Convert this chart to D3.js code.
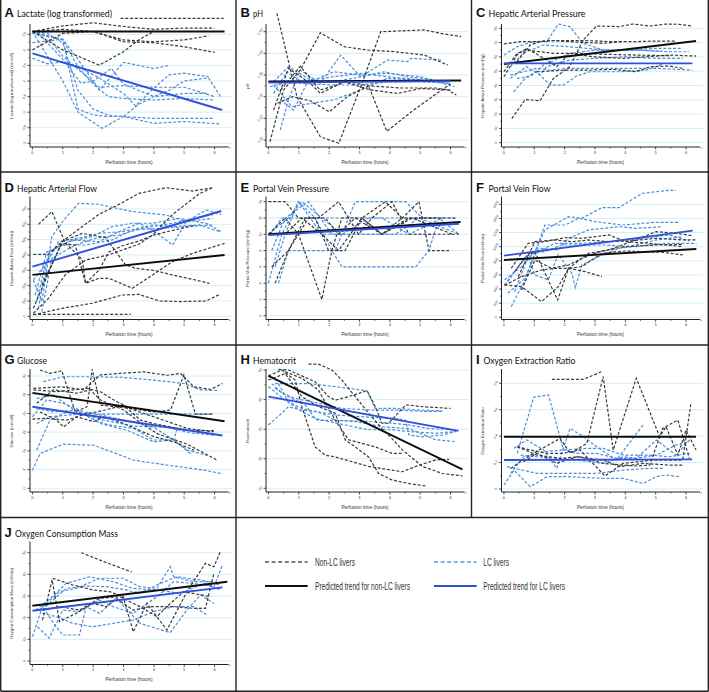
<!DOCTYPE html>
<html><head><meta charset="utf-8">
<script src="https://cdn.jsdelivr.net/npm/d3@7"></script>
<style>body{margin:0;background:#fff}svg{display:block}</style>
</head><body><svg id="c" width="709" height="692"></svg>
<script>
// ---------- DATA (hours, value) ----------
const lactateTicks=[2.5,2,1.5,1,0.5,0,-0.5,-1];
const lactateNonLC=[
 [[2.9,3.01],[6.3,3.01]],
 [[0,2.59],[1,2.77],[2,2.87],[3,2.75],[4,2.66],[5,2.7],[6,2.7]],
 [[0,2.59],[1,2.66],[2,2.59],[3,2.32],[4,2.26],[5,2.32],[5.8,2.45]],
 [[0,2.0],[1,2.53],[2,2.59],[3,2.26],[4,2.23],[5,2.1],[6,1.92]],
 [[0,2.59],[1,2.0],[2.2,1.51],[3,1.94],[3.5,2.32],[4,2.59],[5,2.59],[6.3,2.59]]];
const lactateLC=[
 [[0,2.59],[0.5,2.53],[1,2.23],[1.5,0.7],[2,0.1],[2.5,-0.1],[3,-0.14],[3.5,0.25],[4,0.5],[5,0.6],[5.8,0.6]],
 [[0,2.53],[1,2.34],[1.5,0.1],[2,-0.09],[2.5,-0.14],[3,-0.14],[4,-0.2],[5,-0.2],[6,-0.2]],
 [[0,2.59],[1,1.0],[1.5,0.0],[2.3,-0.52],[3,-0.14],[4,-0.36],[5,-0.3],[6.2,-0.38]],
 [[0,2.23],[1,2.34],[1.5,1.7],[2.2,0.7],[3,1.6],[4,1.4],[4.5,1.5]],
 [[0,1.73],[0.5,1.55],[1,1.62],[1.5,1.45],[2,0.9],[2.5,0.5],[3,0.44],[4,0.39],[5,0.44],[6,0.39]],
 [[0,2.59],[1,2.32],[1.5,1.46],[2.2,1.1],[3,0.6],[3.4,0.2],[4,0.77],[4.5,1.2],[5,1.25],[5.8,1.14]],
 [[0.2,2.53],[1,1.7],[1.6,0.93],[2,1.0],[2.6,1.4],[3,0.9],[4,0.5],[4.5,0.7],[5,1.0],[5.8,1.1],[6.2,0.5]],
 [[0,2.59],[0.5,2.43],[1,1.8],[1.6,1.3],[2.2,0.8],[3,0.85],[4,0.8],[5,0.8],[6,0.5]]];
const lactateTrendNonLC=[[0,2.59],[6.33,2.59]];
const lactateTrendLC=[[0,1.89],[6.25,0.07]];

const phTicks=[7.5,7.4,7.3,7.2,7.1,7.0];
const phNonLC=[
 [[0.28,7.585],[0.94,7.2],[1.71,7.015],[2.32,6.985],[3.04,7.246],[3.7,7.5],[5.14,7.508],[5.69,7.492],[6.35,7.477]],
 [[0.05,6.992],[0.5,7.231],[1.05,7.323],[1.71,7.495],[2.49,7.431],[3.26,7.415],[4.14,7.408],[5.14,7.392],[5.91,7.346]],
 [[0.17,7.138],[0.66,7.331],[1.38,7.262],[1.71,7.215],[2.49,7.269],[3.37,7.231],[4.25,7.215],[5.03,7.238],[5.91,7.231],[6.19,7.208]],
 [[0.3,7.17],[0.8,7.2],[1.4,7.18],[2.0,7.13],[2.6,7.2],[3.3,7.25],[3.9,7.04],[4.8,7.14],[5.7,7.23],[6.0,7.26]],
 [[0.4,7.23],[1.05,7.34],[1.7,7.23],[2.6,7.27],[3.3,7.25],[4.4,7.24],[5.5,7.24],[6.0,7.23]]];
const phLC=[
 [[0.17,7.269],[0.66,7.338],[1.38,7.277],[2.15,7.292],[3.04,7.308],[3.92,7.292],[5.03,7.277],[5.91,7.262]],
 [[0.39,7.046],[0.66,7.185],[1.05,7.323],[1.71,7.262],[2.38,7.392],[3.04,7.292],[3.92,7.369],[4.59,7.362],[4.7,7.377],[5.69,7.369]],
 [[0.17,7.254],[0.77,7.154],[1.38,7.169],[2.15,7.185],[3.04,7.231],[3.92,7.285],[5.03,7.277]],
 [[0.39,7.185],[0.83,7.138],[1.27,7.262],[2.15,7.315],[3.04,7.3],[3.92,7.308],[5.03,7.292],[6.13,7.246]],
 [[0.05,7.246],[0.5,7.262],[1.05,7.262],[2.04,7.254],[3.04,7.254],[3.92,7.269],[5.03,7.269],[6.02,7.262]],
 [[0.17,7.215],[0.61,7.315],[1.16,7.262],[2.15,7.269],[2.82,7.285],[3.81,7.315],[4.59,7.292],[5.47,7.277]]];
const phTrendNonLC=[[0,7.27],[6.35,7.275]];
const phTrendLC=[[0,7.265],[6.0,7.272]];

const hapTicks=[80,70,60,50,40,30,20,10,0];
const hapNonLC=[
 [[0,69],[0.54,70.7],[1.08,70.7],[1.52,71.4],[1.96,71.4],[2.72,71.4],[3.49,70.7],[4.36,70.7],[5.02,71.1],[5.67,71.1]],
 [[0.26,16.9],[0.7,30.2],[1.19,29.3],[1.63,45],[2.17,53.1],[2.61,71.8],[3.05,81.6],[3.81,81.2],[4.25,83],[4.8,81.6],[5.34,83],[5.78,82.8],[6.21,81.6]],
 [[0,46.1],[0.43,61.3],[0.75,66],[1.41,57.8],[1.74,53.1],[2.17,62.5],[2.94,60.1],[3.92,59],[4.69,60.1],[5.45,61.3],[6.33,60.6]],
 [[0,49.6],[0.43,62.5],[0.75,64.8],[1.19,63.6],[1.63,62.5],[2.39,62.5],[3.38,61.8],[4.36,61.3],[5.45,60.8]],
 [[0.43,56.6],[0.86,68.3],[1.19,70.7],[1.63,71.4],[2.5,70.2],[3.27,69.5],[3.92,70.7]],
 [[1.08,49.6],[2.07,50.8],[2.83,50.8],[3.6,51.3],[4.36,49.6],[4.8,53.1],[5.45,53.6],[5.89,52]]];
const hapLC=[
 [[0,61.3],[0.43,67.1],[0.97,70.7],[1.41,70.7],[1.79,83],[2.17,81.2],[2.61,69.5],[3.27,64.8],[4.36,64.8],[5.45,63.6],[6.1,63.6]],
 [[0.21,47.3],[0.64,49.6],[1.08,52],[1.52,50.8],[2.07,52],[3.05,52],[4.14,52],[5.02,52],[6.21,50.8]],
 [[0.32,35.6],[0.75,46.1],[1.08,49.6],[1.52,40.3],[1.96,40.3],[2.39,46.6],[2.83,49.6],[3.81,49.6],[4.69,50.8],[5.23,55]],
 [[0.21,45],[0.75,53.1],[1.19,47.3],[1.41,53.1],[2.17,57.8],[3.05,59],[3.92,60.1],[5.02,59],[5.89,59]],
 [[0.43,45],[0.86,46.1],[1.3,54.3],[2.17,62.5],[3.05,64.8],[4.14,64.8],[5.02,66],[5.89,66]],
 [[0.21,53.1],[0.64,62.5],[1.3,68.3],[2.17,67.1],[3.27,64.8],[4.25,64.8],[5.2,64]]];
const hapTrendNonLC=[[0,55],[6.33,71.1]];
const hapTrendLC=[[0,55.5],[6.21,55.5]];

const hafTicks=[700,600,500,400,300,200,100,0];
const hafNonLC=[
 [[0.2,600],[0.64,683],[1.08,480],[1.64,370],[1.75,215],[2.19,300],[2.52,420],[2.96,460],[3.5,490],[4.0,530],[4.6,560],[5.3,590]],
 [[0.03,404],[0.53,404],[0.97,487],[1.64,541],[2.41,513],[3.07,335],[3.4,313],[4.0,300],[4.6,270],[5.3,240],[5.83,215]],
 [[0.03,52],[0.97,487],[2.19,665],[2.85,730],[3.51,802],[4.4,839],[5.28,817],[5.94,839]],
 [[0.03,20],[0.53,117],[1.08,270],[1.75,367],[2.5,400],[3.5,470],[3.96,530],[4.62,665],[5.5,800],[5.94,839]],
 [[0.03,9],[0.97,52],[1.97,85],[2.96,139],[3.51,143],[4.18,100],[4.84,96],[5.72,100],[6.17,143]],
 [[0.03,13],[0.64,13],[1.64,13],[3.24,13]],
 [[0.31,204],[0.97,476],[1.41,465],[1.75,215],[2.19,248],[2.52,248],[3.29,183],[3.96,270],[4.62,357],[5.28,411],[6.33,476]]];
const hafLC=[
 [[0.03,237],[0.31,96],[0.64,520],[1.08,639],[1.52,737],[2.19,730],[3.29,683],[4.4,661],[5.06,617],[5.72,693],[6.22,665]],
 [[0.03,237],[0.42,335],[0.86,487],[1.52,509],[2.19,541],[2.96,552],[3.96,596],[4.62,585],[5.5,596],[6.17,552]],
 [[0.14,96],[0.42,335],[0.75,443],[1.3,498],[2.19,487],[2.85,552],[3.51,607],[3.96,563],[4.62,465],[5.06,617],[5.94,639]],
 [[0.2,52],[0.53,422],[1.19,487],[1.97,520],[2.63,585],[3.29,607],[3.96,607],[4.84,639],[5.72,607],[6.22,552]],
 [[0.31,30],[0.64,378],[1.41,465],[2.08,509],[2.85,530],[3.62,574],[4.62,607],[5.28,639],[5.94,661]],
 [[0.09,139],[0.48,422],[1.08,465],[1.75,465],[2.63,498],[3.29,563],[4.18,574],[5.06,585],[5.94,596]]];
const hafTrendNonLC=[[0,270],[6.33,400]];
const hafTrendLC=[[0,324],[6.22,687]];

const pvpTicks=[14,12,10,8,6,4,2,0];
const pvpNonLC=[
 [[0,14],[0.55,14],[0.99,12],[1.54,12],[1.98,8],[2.53,8],[3.08,12],[3.85,14],[4.41,12],[5.51,12],[6.17,12]],
 [[0,10],[0.55,12],[0.99,10],[1.76,2],[2.09,8],[2.42,12],[3.08,12],[3.74,10],[4.41,12],[4.96,14],[5.29,8],[5.95,8]],
 [[0.11,6],[0.66,8],[1.21,12],[1.65,12],[2.31,14],[2.97,10],[3.41,12],[4.07,14],[4.63,10],[5.51,10],[6.28,10]],
 [[0,10],[0.55,10],[1.1,12],[1.76,10],[2.31,8],[3.08,12],[3.74,10],[4.63,12],[5.51,12]],
 [[0.22,4],[0.66,8],[1.32,12],[1.87,12],[2.31,10],[2.86,12],[3.74,10],[4.74,12],[6.06,10]]];
const pvpLC=[
 [[0,4],[0.44,10],[0.99,14],[1.54,12],[2.09,8],[2.42,6],[4.85,6],[5.29,8],[5.62,12],[6.28,10]],
 [[0.33,4],[0.66,8],[2.2,8],[2.86,14],[4.52,14],[5.07,12],[5.84,12]],
 [[0.11,8],[0.55,12],[1.32,14],[2.09,10],[2.64,10],[3.3,10],[4.19,10],[4.96,12],[6.28,10]],
 [[0.06,10],[0.44,12],[1.1,12],[1.76,12],[2.42,10],[3.3,12],[4.41,12],[5.51,12],[6.17,12]],
 [[0.22,6],[0.55,10],[0.99,14],[1.76,10],[2.31,10],[3.3,10],[4.41,10],[5.51,10]],
 [[0,10],[0.66,12],[1.1,14],[1.76,12],[2.42,12],[3.74,12],[4.63,10],[5.73,12]]];
const pvpTrendNonLC=[[0,10],[6.33,11.5]];
const pvpTrendLC=[[0,9.9],[6.28,11.3]];

const pvfTicks=[1600,1400,1200,1000,800,600,400,200,0];
const pvfNonLC=[
 [[0.24,694],[0.8,1048],[1.35,1071],[2.02,1128],[2.57,1119],[3.46,1166],[4.01,1071],[4.78,1048],[5.89,1001]],
 [[0.02,458],[0.58,434],[1.24,222],[1.79,434],[2.13,694],[2.57,717],[3.23,906],[4.01,939],[5.23,920],[5.89,883]],
 [[0.02,453],[0.58,576],[1.24,670],[1.68,694],[2.13,694],[2.68,647],[3.23,576]],
 [[0.35,647],[0.74,859],[1.02,930],[1.77,245],[2.13,694],[2.79,906],[3.46,953],[4.34,1095],[5.01,1213],[5.67,1189],[6.22,1156]],
 [[0.47,576],[1.02,1071],[1.68,1095],[2.24,1071],[2.79,1095],[3.46,1071],[4.12,1081],[5.01,1119],[5.89,1095],[6.34,1095]],
 [[0.58,387],[1.02,812],[1.57,694],[2.13,741],[2.57,835],[3.23,939],[4.01,1001],[5.01,1024],[5.89,1034]]];
const pvfLC=[
 [[0.02,529],[0.58,717],[1.02,930],[1.35,1237],[2.13,1425],[2.57,1402],[3.23,1553],[3.79,1553],[4.56,1756],[5.45,1798],[5.67,1798]],
 [[0.24,151],[0.69,529],[1.02,906],[1.35,1307],[2.02,1307],[2.46,1402],[3.01,1355],[3.9,1307],[5.01,1345],[5.78,1345]],
 [[0.13,340],[0.69,552],[1.13,977],[1.79,953],[2.13,1119],[2.79,1237],[3.79,1284],[4.34,1260],[5.23,1284]],
 [[0.35,363],[0.8,859],[1.02,599],[1.46,529],[1.79,892],[2.24,623],[2.35,420],[2.57,741],[3.23,883],[3.79,977],[4.56,1015],[5.45,1048],[6.34,1048]],
 [[0.02,458],[0.8,906],[1.35,930],[1.9,1024],[2.68,1024],[3.34,1024],[4.12,1001],[5.01,1095],[5.89,1142]],
 [[0.13,505],[0.58,788],[1.02,906],[1.68,1048],[2.57,1048],[3.46,1071],[4.56,1119],[5.45,1166],[6.11,1081]]];
const pvfTrendNonLC=[[0,812],[6.34,967]];
const pvfTrendLC=[[0,873],[6.22,1227]];

const gluTicks=[30,25,20,15,10,5,0];
const gluNonLC=[
 [[0.25,31.6],[0.58,30.7],[0.97,31.4],[1.41,20.4],[1.8,21.8],[1.97,31.8],[2.24,22.2],[2.79,21.8],[4.0,20.4],[4.55,20.9],[4.99,30.3],[5.37,19.8],[5.98,19.8]],
 [[0.03,26.7],[0.97,27.1],[1.69,26.3],[2.24,30.3],[2.9,30.7],[3.67,31.1],[4.44,30.2],[4.88,30.7],[5.32,27.1],[5.87,26.4],[6.26,28]],
 [[0,18.5],[0.47,18.7],[1.13,18.2],[1.8,20],[2.13,20.4],[3.01,22.2],[3.56,18.2],[4.0,17.3],[5.1,15.5],[5.98,15.4]],
 [[0.14,22.7],[0.69,26.3],[1.46,25.4],[1.91,26.3],[2.24,23.6],[3.01,20.9],[3.45,18.2],[4.11,14.6],[5.1,11.8],[6.09,7.5]],
 [[0.25,20.4],[0.8,18.2],[1.02,16.4],[1.46,19.1],[2.02,17.8],[2.35,19.1],[3.01,17.3],[4.0,13.8],[4.66,12.4],[5.32,10.2]],
 [[0.03,26.3],[0.8,25.8],[1.8,26.7],[2.24,25.8],[2.79,23.1],[3.34,20.9],[4.0,19.1],[5.1,16],[5.98,15.1]]];
const gluLC=[
 [[0,4.8],[0.25,9.3],[1.02,11.8],[2.02,11.5],[2.46,10.2],[3.34,7.5],[4.44,6.2],[5.54,5],[6.26,3.9]],
 [[0,19.1],[0.47,23.6],[1.02,22.7],[1.69,20.4],[2.24,19.6],[3.01,18.2],[4.0,16.3],[4.66,12.9],[5.1,10.2],[5.76,8.8]],
 [[0.14,17.3],[0.58,19.1],[1.24,19.6],[1.8,20],[2.24,19.8],[3.34,19.8],[4.44,19.8],[5.54,19.8],[5.93,19.8]],
 [[0.36,28.5],[1.02,29.8],[2.02,29.8],[3.01,29.6],[4.0,28.9],[4.99,28],[5.54,26.3],[6.15,26.1]],
 [[0.14,10.2],[0.58,18.2],[1.13,20.4],[1.69,19.6],[2.46,17],[3.34,16],[4.0,12.9],[4.66,12.9],[4.77,16]],
 [[0.14,21.3],[0.69,20.4],[1.46,20.9],[2.24,17.3],[3.12,15.5],[4.0,12.4],[4.66,12.9],[5.21,9.3]],
 [[0.14,24],[0.69,24.9],[1.46,20.4],[2.35,18.2],[3.34,16.6],[4.44,16.3],[5.21,14.8],[5.98,14.2]]];
const gluTrendNonLC=[[0,25.5],[6.33,17.9]];
const gluTrendLC=[[0,21.8],[6.26,14.1]];

const hctTicks=[40,35,30,25,20];
const hctNonLC=[
 [[1.32,41],[1.65,41],[2.09,40],[2.42,38.3],[2.86,35.5],[3.3,32.7],[3.74,30.1],[4.07,28.4],[4.41,26.5],[5.07,23.7],[5.73,22.5],[6.39,22.1]],
 [[0.33,40.1],[0.66,40],[1.54,38],[1.98,35.5],[2.2,34.9],[2.64,35.5],[3.25,36.5],[3.52,33.8],[3.74,31],[3.96,31],[4.52,34.1],[5.07,33.8],[6.0,33.5]],
 [[0,39],[0.44,40],[0.88,38.3],[1.1,33.8],[1.54,27],[1.87,25.6],[2.2,25.3],[3.3,23.7],[4.41,22.8],[4.96,23.9],[5.51,24.8],[5.95,24.9]],
 [[0,38.3],[0.55,39.4],[1.1,35.5],[1.65,33.8],[2.2,32.7],[2.53,28.2],[2.86,27],[3.3,25.3],[3.63,22.5],[4.07,21.4],[4.63,20.8],[5.18,20.4]],
 [[0.55,39.7],[1.1,38.6],[1.65,36.6],[2.2,31.5],[2.64,28.2],[3.08,27.6],[3.52,27],[4.07,25.9],[4.41,25.9]]];
const hctLC=[
 [[0.22,37.7],[0.66,37.7],[1.32,37.7],[2.2,37.2],[3.08,36.6],[3.25,36.5],[3.52,33.5],[4.19,33.5],[5.07,33.2],[5.73,33.1]],
 [[0.11,37.7],[0.44,36.1],[0.88,35.2],[1.65,34.4],[2.42,33.5],[3.52,33.2],[4.41,33.2],[5.07,33],[5.73,33]],
 [[0,30.7],[0.44,32.7],[0.66,33.8],[1.1,33.2],[1.54,33],[2.2,32.4],[3.08,32.1],[4.19,31.8],[4.52,31.5],[4.63,29],[5.07,28.7],[5.73,29],[6.17,29.6]],
 [[0.33,37.7],[0.66,34.6],[1.1,33.5],[1.76,32.7],[2.2,31.5],[3.3,31.3],[4.07,31],[4.63,30.7],[5.29,30.1],[6.17,29.9]],
 [[0.22,36.9],[0.66,35.5],[1.21,34.1],[1.54,31.8],[1.98,31.3],[2.53,30.7],[3.3,29.9],[4.07,29.9],[4.63,29.6],[5.51,29.3],[6.17,29.6]],
 [[0,37.2],[0.55,34.9],[1.1,33],[1.65,31.5],[2.2,31.5],[2.86,31.3],[3.74,30.4],[4.63,30.1],[5.51,28.2],[6.17,27.9]]];
const hctTrendNonLC=[[0,39],[6.39,23.2]];
const hctTrendLC=[[0,35.5],[6.26,29.7]];

const oerTicks=[0.8,0.6,0.4,0.2,0];
const oerNonLC=[
 [[1.58,0.83],[2.62,0.83],[3.22,0.888]],
 [[0.22,0.156],[0.87,0.257],[1.85,0.383],[2.18,0.27],[2.73,0.345],[3.27,0.851],[3.6,0.295],[4.36,0.838],[5.13,0.396],[5.34,0.472],[5.73,0.257],[6.0,0.446],[6.33,0.295]],
 [[0.44,0.32],[1.09,0.257],[1.85,0.232],[2.51,0.244],[3.27,0.194],[3.93,0.181],[4.36,0.174],[4.8,0.181],[5.23,0.459],[5.73,0.522],[6.11,0.232]],
 [[0.44,0.32],[0.87,0.295],[1.42,0.27],[1.96,0.27],[2.51,0.295],[3.33,0.098],[3.93,0.194],[4.91,0.219],[5.45,0.219],[5.89,0.219],[6.16,0.648]],
 [[0.65,0.207],[1.09,0.27],[1.74,0.194],[2.4,0.244],[3.27,0.219],[3.82,0.169],[4.58,0.194],[5.45,0.181],[5.89,0.181]]];
const oerLC=[
 [[0,0.03],[0.33,0.143],[0.87,0.018],[1.42,0.093],[2.18,0.093],[3.27,0.08],[3.93,0.08],[4.58,0.042],[5.02,0.093],[5.34,0.106],[5.78,0.093]],
 [[0.33,0.308],[0.76,0.371],[1.31,0.295],[1.74,0.156],[2.18,0.459],[2.62,0.396],[3.05,0.32],[3.71,0.219],[4.58,0.484]],
 [[0.44,0.27],[0.98,0.694],[1.47,0.712],[1.96,0.295],[2.4,0.27],[3.05,0.27],[3.71,0.232],[4.36,0.232],[5.02,0.371],[5.67,0.257],[6.11,0.371]],
 [[0.22,0.118],[0.65,0.244],[1.31,0.282],[1.96,0.295],[2.73,0.308],[3.27,0.308],[3.93,0.257],[4.8,0.257],[5.45,0.244],[6.11,0.27]],
 [[0.11,0.169],[1.09,0.118],[1.74,0.118],[2.51,0.118],[3.05,0.118],[3.93,0.143],[4.8,0.156],[5.23,0.156]],
 [[0.55,0.257],[1.09,0.244],[1.74,0.232],[2.4,0.219],[3.27,0.194],[3.93,0.244],[4.36,0.232],[5.02,0.257],[5.67,0.333],[6.11,0.358]]];
const oerTrendNonLC=[[0,0.396],[6.33,0.396]];
const oerTrendLC=[[0,0.219],[6.2,0.224]];

const ocmTicks=[50,40,30,20,10,0];
const ocmNonLC=[
 [[1.61,50],[2.44,45.4],[3.27,41.1]],
 [[0.33,18.9],[0.66,38.2],[1.33,35.1],[1.99,32.8],[2.55,32],[2.99,29.7],[3.32,13.5],[3.77,26.6],[4.43,14.3],[5.09,32],[5.7,45.1],[5.98,43.5],[6.2,50.9]],
 [[0.66,36.6],[0.89,18.2],[1.44,22],[1.99,26.6],[2.44,25.1],[2.77,28.9],[3.32,23.5],[3.88,25.1],[4.65,25.1],[5.32,24.3],[5.7,24.3],[5.98,40.5]],
 [[0.33,23.5],[0.89,25.1],[1.55,23.5],[2.21,28.9],[2.88,29.7],[3.54,25.1],[4.1,20.5],[4.43,25.1],[4.98,32],[5.87,29.7]]];
const ocmLC=[
 [[0,11.2],[0.33,25.1],[0.78,15.8],[1.0,12],[1.55,12],[1.77,25.1],[2.21,22],[2.77,28.9],[3.54,17.4],[4.54,13.1],[5.09,23.5],[5.54,30.5],[5.98,26.6]],
 [[0.17,15.8],[0.55,10.5],[1.0,23.5],[1.55,22.8],[2.21,28.2],[2.66,25.1],[3.32,22],[4.1,29.7],[4.65,36.6],[5.32,35.8],[5.98,34.3],[6.26,44.3]],
 [[0.22,23.5],[0.89,32],[1.44,33.5],[2.21,38.2],[2.99,38.2],[3.54,34.3],[4.1,33.5],[4.54,43.5],[4.65,38.9],[5.32,36.6],[5.98,36.6]],
 [[0.33,22],[0.78,20.5],[1.33,17.4],[1.99,15.8],[2.66,17.4],[3.32,18.9],[3.99,22.8],[4.65,25.1],[5.32,25.1],[5.76,21.2]],
 [[0.44,25.1],[1.11,33.5],[1.77,34.6],[2.44,34.3],[3.1,32.8],[3.54,31.2],[4.21,35.8],[4.76,38.9],[5.54,37.4],[6.2,35.1]],
 [[0.11,23.5],[0.66,29.7],[1.11,35.8],[1.88,38.9],[2.66,36.6],[3.32,33.5],[4.1,32.8],[4.87,31.2],[5.65,35.8],[6.2,32.8]]];
const ocmTrendNonLC=[[0,25.5],[6.42,36.6]];
const ocmTrendLC=[[0,23.2],[6.26,34]];

const xTicks=[0,1,2,3,4,5,6];
const legendItems=["Non-LC livers","LC livers","Predicted trend for non-LC livers","Predicted trend for LC livers"];

// ---------- LAYOUT ----------
const panels=[
 {col:0,row:0,letter:"A",title:"Lactate (log transformed)",tw:95,ylab:"Lactate (log transformed) (mmol/l)",ticks:lactateTicks,fmt:d=>String(d),yr:[143.3,34.3],non:lactateNonLC,lc:lactateLC,tn:lactateTrendNonLC,tl:lactateTrendLC},
 {col:1,row:0,letter:"B",title:"pH",tw:10,ylab:"pH",ticks:phTicks,fmt:d=>d.toFixed(2),yr:[140,31.7],non:phNonLC,lc:phLC,tn:phTrendNonLC,tl:phTrendLC},
 {col:2,row:0,letter:"C",title:"Hepatic Arterial Pressure",tw:97,ylab:"Hepatic Artery Pressure (mmHg)",ticks:hapTicks,fmt:d=>String(d),yr:[142.7,28.3],non:hapNonLC,lc:hapLC,tn:hapTrendNonLC,tl:hapTrendLC},
 {col:0,row:1,letter:"D",title:"Hepatic Arterial Flow",tw:80,ylab:"Hepatic Artery Flow (ml/min)",ticks:hafTicks,fmt:d=>String(d),yr:[143.8,36.5],non:hafNonLC,lc:hafLC,tn:hafTrendNonLC,tl:hafTrendLC},
 {col:1,row:1,letter:"E",title:"Portal Vein Pressure",tw:76,ylab:"Portal Vein Pressure (mmHg)",ticks:pvpTicks,fmt:d=>String(d),yr:[143.2,29.2],non:pvpNonLC,lc:pvpLC,tn:pvpTrendNonLC,tl:pvpTrendLC},
 {col:2,row:1,letter:"F",title:"Portal Vein Flow",tw:62,ylab:"Portal Vein Flow (ml/min)",ticks:pvfTicks,fmt:d=>String(d),yr:[144.8,31.8],non:pvfNonLC,lc:pvfLC,tn:pvfTrendNonLC,tl:pvfTrendLC},
 {col:0,row:2,letter:"G",title:"Glucose",tw:30,ylab:"Glucose (mmol/l)",ticks:gluTicks,fmt:d=>String(d),yr:[143.3,31],non:gluNonLC,lc:gluLC,tn:gluTrendNonLC,tl:gluTrendLC},
 {col:1,row:2,letter:"H",title:"Hematocrit",tw:43,ylab:"Haematocrit",ticks:hctTicks,fmt:d=>String(d),yr:[143.3,25],non:hctNonLC,lc:hctLC,tn:hctTrendNonLC,tl:hctTrendLC},
 {col:2,row:2,letter:"I",title:"Oxygen Extraction Ratio",tw:92,ylab:"Oxygen Extraction Ratio",ticks:oerTicks,fmt:d=>String(d),yr:[144,38.3],non:oerNonLC,lc:oerLC,tn:oerTrendNonLC,tl:oerTrendLC},
 {col:0,row:3,letter:"J",title:"Oxygen Consumption Mass",tw:103,ylab:"Oxygen Consumption Mass (ml/min)",ticks:ocmTicks,fmt:d=>String(d),yr:[143.5,35.2],non:ocmNonLC,lc:ocmLC,tn:ocmTrendNonLC,tl:ocmTrendLC}
];
const colX=[0,236,471.5], rowY=[0,172.5,345,517.5];
const C={dashBlack:"#3a3a3a",dashBlue:"#4b8fdc",trendBlack:"#0d0d0d",trendBlue:"#3050dd",grid:"#d6eef1",axis:"#222"};
const svg=d3.select("#c");
svg.append("rect").attr("width",709).attr("height",692).attr("fill","#fff");
const x=d3.scaleLinear().domain([-0.08,6.45]).range([30,228.2]);

panels.forEach(p=>{
  const g=svg.append("g").attr("transform",`translate(${colX[p.col]},${rowY[p.row]})`);
  const lo=d3.min(p.ticks), hi=d3.max(p.ticks);
  const y=d3.scaleLinear().domain([lo,hi]).range(p.yr);
  g.selectAll(".gl").data(p.ticks).enter().append("line")
   .attr("x1",31).attr("x2",232).attr("y1",d=>y(d)).attr("y2",d=>y(d))
   .attr("stroke",C.grid).attr("stroke-width",1);
  g.append("line").attr("x1",30).attr("x2",30).attr("y1",24).attr("y2",147).attr("stroke",C.axis).attr("stroke-width",1);
  g.append("line").attr("x1",30).attr("x2",228.5).attr("y1",147).attr("y2",147).attr("stroke",C.axis).attr("stroke-width",1);
  const step=p.ticks[0]-p.ticks[1];
  const minor=p.ticks.slice(0,-1).map(t=>t-step/2);
  g.selectAll(".yt").data(p.ticks).enter().append("line").attr("x1",27.5).attr("x2",30).attr("y1",d=>y(d)).attr("y2",d=>y(d)).attr("stroke",C.axis).attr("stroke-width",0.8);
  g.selectAll(".ym").data(minor).enter().append("line").attr("x1",28.5).attr("x2",30).attr("y1",d=>y(d)).attr("y2",d=>y(d)).attr("stroke",C.axis).attr("stroke-width",0.6);
  g.selectAll(".xt").data(xTicks).enter().append("line").attr("x1",d=>x(d)).attr("x2",d=>x(d)).attr("y1",147).attr("y2",149.5).attr("stroke",C.axis).attr("stroke-width",0.8);
  g.selectAll(".xm").data(xTicks.map(d=>d+0.5)).enter().append("line").attr("x1",d=>x(d)).attr("x2",d=>x(d)).attr("y1",147).attr("y2",148.5).attr("stroke",C.axis).attr("stroke-width",0.6);
  g.selectAll(".xl").data(xTicks).enter().append("text").attr("x",d=>x(d)).attr("y",153.5)
   .attr("text-anchor","middle").attr("font-family","Arial, Liberation Sans").attr("font-size",4).attr("fill","#333").text(d=>d);
  g.selectAll(".yl").data(p.ticks).enter().append("text")
   .attr("transform",d=>`translate(24,${y(d)}) rotate(-60)`).attr("text-anchor","middle").attr("dy","1.3")
   .attr("font-family","Arial, Liberation Sans").attr("font-size",3.6).attr("fill","#333").text(p.fmt);
  g.append("text").attr("transform","translate(12.5,86) rotate(-90)").attr("text-anchor","middle")
   .attr("font-family","Arial, Liberation Sans").attr("font-size",4.4).attr("fill","#333").text(p.ylab);
  g.append("text").attr("x",129).attr("y",163.5).attr("text-anchor","middle")
   .attr("font-family","Arial, Liberation Sans").attr("font-size",4.8).attr("fill","#333").text("Perfusion time (hours)");
  const ty=p.row===0?17.3:19;
  g.append("text").attr("x",4.5).attr("y",ty).attr("fill","#111").attr("font-family","Arial, Liberation Sans")
   .attr("font-weight","bold").attr("font-size",13).text(p.letter);
  const lwid=p.letter==="I"?5:(p.letter==="J"?8:10);
  g.append("text").attr("x",4.5+lwid+2.5).attr("y",ty).attr("fill","#111").attr("font-family","Lato, Open Sans")
   .attr("font-size",10).attr("textLength",p.tw).attr("lengthAdjust","spacingAndGlyphs").text(p.title);
  const line=d3.line().x(d=>x(d[0])).y(d=>y(d[1]));
  g.selectAll(".lc").data(p.lc).enter().append("path").attr("d",line).attr("fill","none")
   .attr("stroke",C.dashBlue).attr("stroke-width",1.2).attr("stroke-dasharray","3,1.8");
  g.selectAll(".nl").data(p.non).enter().append("path").attr("d",line).attr("fill","none")
   .attr("stroke",C.dashBlack).attr("stroke-width",1.2).attr("stroke-dasharray","3,1.8");
  g.append("path").attr("d",line(p.tn)).attr("fill","none").attr("stroke",C.trendBlack).attr("stroke-width",1.9);
  g.append("path").attr("d",line(p.tl)).attr("fill","none").attr("stroke",C.trendBlue).attr("stroke-width",1.9);
});

// borders
const B=svg.append("g").attr("stroke","#222").attr("stroke-width",1.4);
[[0.7,691.3,708.3,691.3],[0.7,0,0.7,691.3],[708.3,0,708.3,691.3],
 [0.7,172,708.3,172],[0.7,345,708.3,345],[0.7,517.5,708.3,517.5],
 [236,0,236,691.3],[471.5,0,471.5,517.5]].forEach(l=>B.append("line").attr("x1",l[0]).attr("y1",l[1]).attr("x2",l[2]).attr("y2",l[3]));

// legend
const L=svg.append("g");
const lx=[265,434], ly=[562,586], tx=[315,483.3];
const lw=[40,25.7,95,81.7];
const styles=[{c:"#555",w:1.4,d:"4,2.6"},{c:"#5b9bd5",w:1.4,d:"4,2.6"},{c:"#111",w:2,d:null},{c:"#2a4fe0",w:2,d:null}];
legendItems.forEach((s,i)=>{
  const cx=i%2, cy=Math.floor(i/2);
  const st=styles[i];
  const ln=L.append("line").attr("x1",lx[cx]).attr("x2",lx[cx]+42.7).attr("y1",ly[cy]).attr("y2",ly[cy]).attr("stroke",st.c).attr("stroke-width",st.w);
  if(st.d) ln.attr("stroke-dasharray",st.d);
  L.append("text").attr("x",tx[cx]).attr("y",ly[cy]+3.6).attr("font-family","Arial, Liberation Sans").attr("font-size",10.5)
   .attr("fill","#333").attr("textLength",lw[i]).attr("lengthAdjust","spacingAndGlyphs").text(s);
});
</script></body></html>
